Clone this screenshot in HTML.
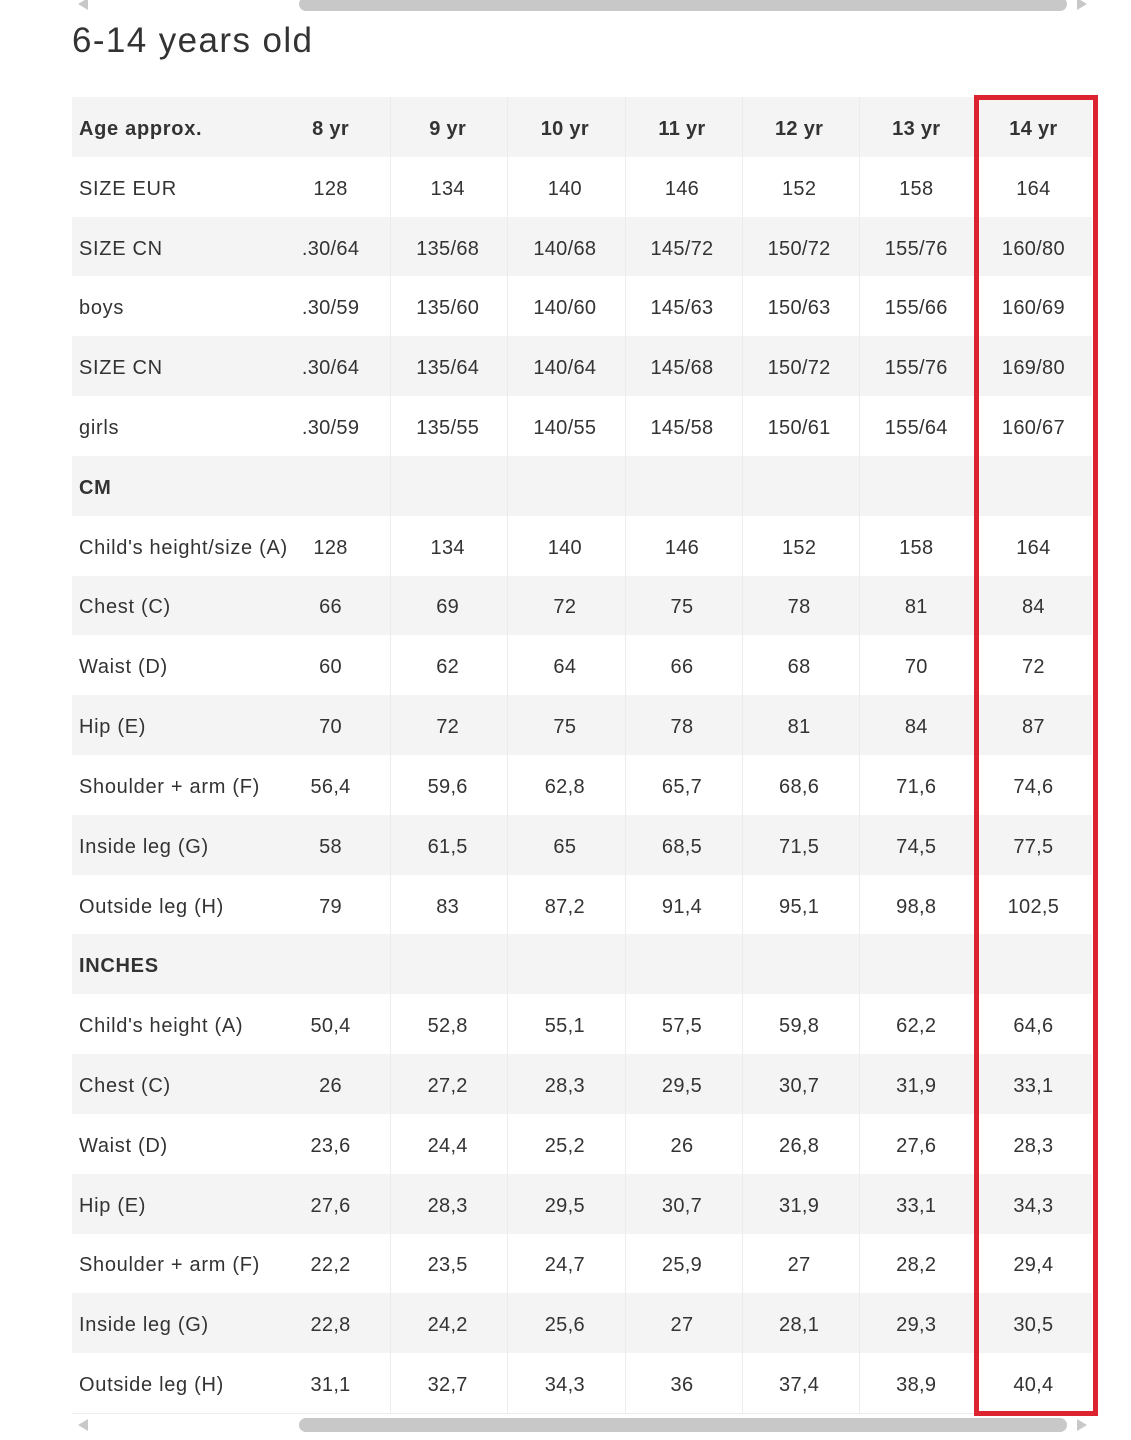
<!DOCTYPE html>
<html><head><meta charset="utf-8">
<style>
*{margin:0;padding:0;box-sizing:border-box}
html,body{width:1131px;height:1440px;background:#fff;overflow:hidden;position:relative;font-family:"Liberation Sans",sans-serif;color:#333}
.title{position:absolute;left:72px;top:21px;font-size:35px;line-height:40px;color:#333;letter-spacing:1.4px}
.row{position:absolute;left:72px;width:1020px;height:59.82px}
.g{background:#f4f4f4}
.c{position:absolute;top:0;height:100%;padding-top:5px;display:flex;align-items:center;justify-content:center;font-size:20px;white-space:nowrap;letter-spacing:0.3px}
.lab{left:7px;justify-content:flex-start;letter-spacing:0.7px}
.b{font-weight:bold}
.vl{position:absolute;top:97px;height:1316px;width:1px;background:#ececec}
.red{position:absolute;left:974px;top:95px;width:124px;height:1321px;border:5px solid #dc2430}
.thumb{position:absolute;left:299px;width:768px;background:#c8c8c8;border-radius:7px}
.arL{position:absolute;width:0;height:0;border-top:6px solid transparent;border-bottom:6px solid transparent;border-right:10px solid #c8c8c8}
.arR{position:absolute;width:0;height:0;border-top:6px solid transparent;border-bottom:6px solid transparent;border-left:10px solid #c8c8c8}
</style></head><body>
<div class="thumb" style="top:-3px;height:14px"></div>
<div class="arL" style="left:78px;top:-2px"></div>
<div class="arR" style="left:1077px;top:-2px"></div>
<div class="title">6-14 years old</div>
<div id="t"></div>
<div class="thumb" style="top:1418px;height:14px"></div>
<div class="arL" style="left:78px;top:1419px"></div>
<div class="arR" style="left:1077px;top:1419px"></div>
<script>
var rows=[
["Age approx.","8 yr","9 yr","10 yr","11 yr","12 yr","13 yr","14 yr"],
["SIZE EUR","128","134","140","146","152","158","164"],
["SIZE CN",".30/64","135/68","140/68","145/72","150/72","155/76","160/80"],
["boys",".30/59","135/60","140/60","145/63","150/63","155/66","160/69"],
["SIZE CN",".30/64","135/64","140/64","145/68","150/72","155/76","169/80"],
["girls",".30/59","135/55","140/55","145/58","150/61","155/64","160/67"],
["CM","","","","","","",""],
["Child's height/size (A)","128","134","140","146","152","158","164"],
["Chest (C)","66","69","72","75","78","81","84"],
["Waist (D)","60","62","64","66","68","70","72"],
["Hip (E)","70","72","75","78","81","84","87"],
["Shoulder + arm (F)","56,4","59,6","62,8","65,7","68,6","71,6","74,6"],
["Inside leg (G)","58","61,5","65","68,5","71,5","74,5","77,5"],
["Outside leg (H)","79","83","87,2","91,4","95,1","98,8","102,5"],
["INCHES","","","","","","",""],
["Child's height (A)","50,4","52,8","55,1","57,5","59,8","62,2","64,6"],
["Chest (C)","26","27,2","28,3","29,5","30,7","31,9","33,1"],
["Waist (D)","23,6","24,4","25,2","26","26,8","27,6","28,3"],
["Hip (E)","27,6","28,3","29,5","30,7","31,9","33,1","34,3"],
["Shoulder + arm (F)","22,2","23,5","24,7","25,9","27","28,2","29,4"],
["Inside leg (G)","22,8","24,2","25,6","27","28,1","29,3","30,5"],
["Outside leg (H)","31,1","32,7","34,3","36","37,4","38,9","40,4"]];
var h="";
for(var i=0;i<rows.length;i++){
 var r=rows[i];var bold=(i==0||i==6||i==14);
 h+='<div class="row'+(i%2==0?' g':'')+'" style="top:'+(97+i*59.82).toFixed(2)+'px">';
 h+='<div class="c lab'+(bold?' b':'')+'">'+r[0]+'</div>';
 for(var j=1;j<8;j++){
  var l=200+(j-1)*117.14;
  h+='<div class="c'+(i==0?' b':'')+'" style="left:'+l.toFixed(2)+'px;width:117.14px">'+r[j]+'</div>';
 }
 h+='</div>';
}
var xs=[390,507,625,742,859,976];
for(var k=0;k<xs.length;k++){h+='<div class="vl" style="left:'+xs[k]+'px"></div>';}
h+='<div style="position:absolute;left:72px;top:1413px;width:1020px;height:1px;background:#ececec"></div>';
h+='<div class="red"></div>';
document.getElementById("t").innerHTML=h;
</script>
</body></html>
